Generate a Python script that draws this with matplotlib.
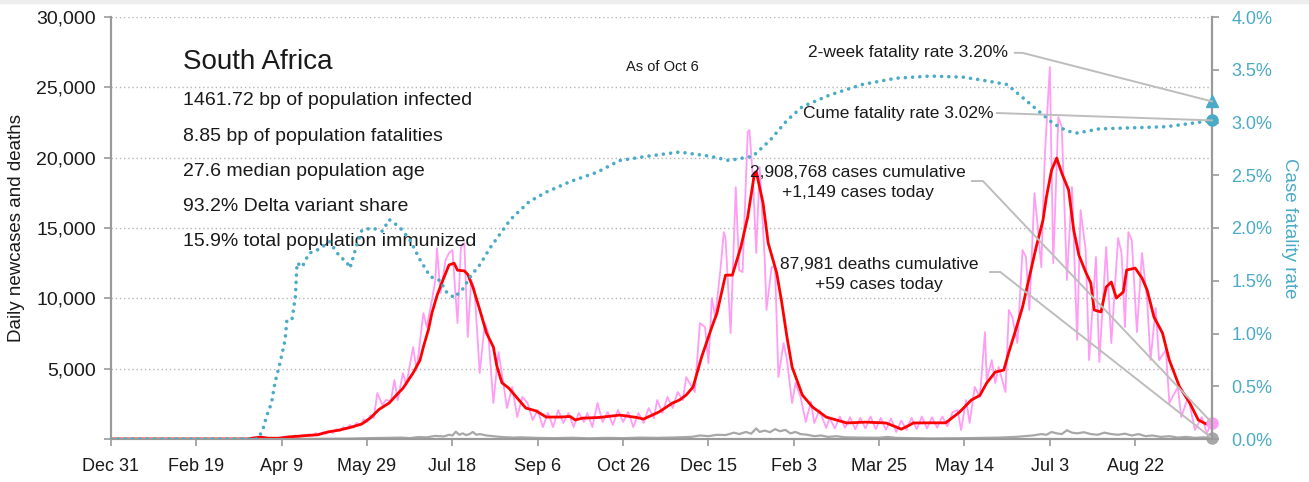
import numpy as np
import matplotlib
matplotlib.use("Agg")
import matplotlib.pyplot as plt
from matplotlib.patches import Rectangle
from matplotlib.ticker import FuncFormatter

plt.rcParams['font.family'] = ['Liberation Sans', 'DejaVu Sans']

# days counted from Dec 31, 2019
tick_days = [0, 50, 100, 150, 200, 250, 300, 350, 400, 450, 500, 550, 600]
tick_labels = ["Dec 31", "Feb 19", "Apr 9", "May 29", "Jul 18", "Sep 6", "Oct 26",
               "Dec 15", "Feb 3", "Mar 25", "May 14", "Jul 3", "Aug 22"]

# daily new cases
case_days = [0, 20, 40, 60, 65, 70, 75, 79, 82, 84, 86, 88, 90, 92, 94, 96, 98, 100,
             102, 104, 106, 108, 110, 112, 114, 116, 118, 120, 122, 124, 126, 128, 130,
             132, 134, 136, 138, 140, 142, 144, 146, 148, 150, 152, 154, 156, 159, 161,
             164, 166, 168, 171, 173, 177, 179, 183, 185, 188, 190, 191, 193, 196, 198,
             200, 203, 205, 207, 209, 211, 213, 216, 219, 221, 224, 227, 230, 232, 235,
             238, 241, 244, 247, 250, 253, 256, 259, 262, 265, 268, 271, 274, 277, 279,
             282, 285, 288, 291, 294, 297, 300, 303, 306, 309, 312, 315, 318, 320, 323,
             326, 329, 332, 335, 337, 342, 345, 348, 350, 352, 354, 357, 359, 360, 363,
             366, 368, 370, 373, 374, 376, 378, 380, 383, 384, 387, 389, 391, 394, 396,
             399, 401, 404, 407, 410, 412, 415, 419, 421, 424, 427, 430, 433, 436, 439,
             442, 445, 448, 451, 454, 457, 460, 463, 466, 469, 472, 475, 478, 481, 484,
             487, 490, 493, 496, 498, 501, 503, 506, 509, 512, 513, 516, 518, 520, 524,
             526, 528, 531, 534, 536, 538, 541, 543, 545, 547, 550, 552, 555, 557, 560,
             563, 566, 568, 571, 573, 577, 579, 583, 586, 590, 592, 594, 596, 598, 601,
             604, 607, 609, 612, 614, 618, 620, 625, 627, 631, 635, 639, 642, 645]
case_vals = [0, 0, 0, 0, 1, 3, 10, 25, 50, 90, 180, 120, 60, 40, 70, 90, 60, 110,
             80, 180, 130, 250, 160, 280, 210, 330, 240, 420, 300, 470, 360, 560, 430,
             700, 560, 850, 700, 1000, 800, 1150, 950, 1400, 1200, 1700, 1500, 3270, 2420, 2770,
             2700, 4190, 2770, 4690, 3840, 6540, 4900, 8950, 7960, 9880, 11300, 13570, 10380, 12720, 13220,
             13430, 8240, 13650, 13930, 7250, 11300, 10590, 4690, 8240, 7530, 2560, 6180, 3840, 2200, 3700,
             1560, 2990, 2560, 1350, 2060, 850, 1850, 850, 2060, 1140, 1850, 850, 1850, 1210, 1850,
             850, 2560, 1210, 1920, 1000, 2060, 1210, 1920, 850, 1850, 1140, 2200, 1490, 2770, 1850,
             2990, 2200, 3340, 2770, 4400, 3340, 8240, 7960, 5400, 10020, 8670, 12010, 14710, 14290, 7530,
             17900, 12000, 11870, 21820, 21960, 18620, 13220, 19330, 12720, 9170, 12220, 12220, 4410, 6820, 5610,
             2560, 3980, 2990, 1210, 2630, 1140, 2060, 780, 1500, 750, 1600, 800, 1550, 700, 1500,
             750, 1600, 700, 1500, 650, 1450, 500, 1300, 650, 1500, 700, 1600, 750, 1550, 800,
             1600, 900, 1900, 2060, 640, 2770, 1140, 3700, 2990, 7600, 4190, 5610, 3980, 5120, 3340,
             9170, 8670, 6820, 13430, 12940, 9170, 17480, 15000, 12220, 20000, 26440, 12500, 22890, 22170, 11300,
             17910, 7040, 16280, 13430, 5610, 12940, 5470, 13650, 6820, 14290, 13220, 7960, 14710, 14140, 7600,
             13220, 9880, 5610, 9310, 5610, 6330, 2560, 3700, 1560, 2990, 640, 1560, 430, 1149]

# 7-day average of new cases
avg_days = [0, 80, 84, 88, 92, 98, 104, 110, 116, 121, 127, 134, 141, 147, 152, 157, 163, 167,
            171, 177, 181, 183, 186, 188, 191, 194, 198, 201, 203, 207, 209, 212, 216, 220, 224,
            226, 229, 233, 238, 243, 249, 255, 263, 269, 272, 276, 286, 298, 308, 312, 321, 329,
            333, 337, 341, 346, 352, 355, 360, 364, 369, 373, 377, 378, 382, 385, 390, 393, 396,
            399, 405, 411, 419, 431, 442, 454, 459, 463, 468, 470, 480, 489, 497, 504, 509, 513,
            518, 523, 526, 530, 534, 538, 542, 546, 548, 551, 554, 557, 561, 564, 567, 571, 574,
            576, 580, 583, 586, 589, 593, 595, 600, 604, 607, 611, 616, 620, 626, 632, 637, 641, 645]
avg_vals = [0, 0, 80, 130, 60, 50, 150, 200, 260, 300, 500, 640, 850, 1070, 1500, 2100, 2560, 3100,
            3600, 4700, 5600, 6540, 7800, 8950, 10200, 11160, 12370, 12500, 12000, 11950, 11700, 10800, 9200, 7530, 6540,
            5200, 4000, 3620, 2910, 2200, 2000, 1560, 1560, 1600, 1350, 1480, 1530, 1700, 1530, 1420, 1920, 2560,
            2770, 3130, 3700, 5830, 7960, 8950, 11650, 11650, 13650, 15780, 18900, 19000, 16770, 13930, 11800, 9670, 7250,
            5120, 3130, 2270, 1560, 1140, 1200, 1140, 900, 700, 1000, 1140, 1150, 1150, 1900, 2770, 3100, 3980,
            4760, 4900, 6180, 7750, 9380, 11510, 13650, 15560, 17200, 19100, 19970, 18900, 17700, 14850, 13080, 11870, 11090,
            9170, 9030, 10800, 11160, 10020, 10450, 12010, 12150, 11440, 10590, 8670, 7530, 5610, 3700, 2560, 1350, 1100, 1000]

# daily deaths
death_days = [0, 80, 100, 120, 140, 150, 160, 170, 175, 180, 185, 190, 195, 198, 200, 202, 204,
              206, 208, 210, 212, 214, 216, 220, 224, 228, 235, 240, 250, 260, 270, 280, 290, 300,
              310, 320, 330, 340, 345, 350, 355, 360, 365, 368, 372, 375, 378, 380, 383, 386, 389,
              392, 395, 398, 401, 404, 408, 412, 416, 420, 425, 430, 440, 450, 455, 460, 470, 480,
              490, 500, 510, 520, 530, 535, 540, 545, 548, 551, 554, 557, 560, 563, 566, 570, 574,
              578, 582, 586, 590, 594, 598, 602, 606, 610, 615, 620, 625, 630, 635, 640, 645]
death_vals = [0, 0, 5, 10, 30, 60, 80, 100, 60, 140, 120, 220, 180, 300, 250, 520, 300,
              400, 280, 350, 500, 300, 350, 250, 200, 150, 100, 120, 80, 60, 90, 50, 80, 60,
              100, 80, 110, 150, 250, 200, 300, 280, 450, 350, 500, 380, 750, 500, 600, 480, 700,
              550, 650, 400, 500, 350, 300, 200, 250, 150, 200, 120, 100, 90, 150, 80, 60, 40,
              50, 60, 80, 100, 150, 200, 250, 350, 300, 500, 400, 350, 620, 450, 400, 480, 350,
              300, 450, 350, 300, 380, 250, 350, 200, 250, 150, 200, 100, 150, 80, 120, 59]

# cumulative case fatality rate, %
cfr_days = [0, 86, 89, 91, 94, 96, 99, 102, 103, 106, 108, 109, 112, 116, 122, 128, 134, 138,
            140, 144, 147, 153, 159, 163, 169, 175, 181, 187, 193, 196, 201, 206, 211, 216, 222,
            234, 245, 255, 269, 285, 298, 314, 333, 351, 362, 376, 386, 396, 405, 421, 440, 460,
            480, 499, 511, 525, 536, 544, 552, 560, 566, 579, 599, 618, 632, 645]
cfr_vals = [0, 0, 0.09, 0.21, 0.34, 0.53, 0.72, 0.94, 1.12, 1.13, 1.35, 1.67, 1.63, 1.76, 1.80, 1.87, 1.73, 1.68,
            1.62, 1.84, 1.98, 2.00, 1.97, 2.08, 2.01, 1.89, 1.70, 1.54, 1.50, 1.40, 1.34, 1.42, 1.55, 1.65, 1.81,
            2.08, 2.25, 2.34, 2.44, 2.53, 2.64, 2.68, 2.72, 2.68, 2.64, 2.68, 2.83, 3.02, 3.15, 3.26, 3.36, 3.42,
            3.44, 3.43, 3.40, 3.36, 3.21, 3.10, 2.99, 2.92, 2.90, 2.94, 2.95, 2.96, 2.99, 3.02]

two_week_rate = 3.20
cume_rate = 3.02
total_cases = 2908768
cases_today = 1149
total_deaths = 87981
deaths_today = 59

stats = ["1461.72 bp of population infected",
         "8.85 bp of population fatalities",
         "27.6 median population age",
         "93.2% Delta variant share",
         "15.9% total population immunized"]

teal = "#4aabc6"
pink = "#ff9cf4"
red = "#ff0000"
gray = "#a8a8a8"
axis_gray = "#9a9a9a"
text_col = "#1a1a1a"

fig = plt.figure(figsize=(13.09, 4.82), dpi=100)
fig.add_artist(Rectangle((0, 1 - 3 / 482), 1, 3 / 482, transform=fig.transFigure,
                         color="#eeeeee", zorder=0))
ax = fig.add_axes([111 / 1309, 43 / 482, 1101 / 1309, 422 / 482])
ax2 = ax.twinx()

ax.plot(death_days, death_vals, color=gray, lw=1.6, zorder=2)
ax.plot(case_days, case_vals, color=pink, lw=1.3, zorder=3)
ax.plot(avg_days, avg_vals, color=red, lw=2.0, zorder=4)
ax.plot(case_days[-1], case_vals[-1], "o", color=pink, ms=8, zorder=5, clip_on=False)
ax.plot(death_days[-1], death_vals[-1], "o", color=gray, ms=8, zorder=5, clip_on=False)

ax2.plot(cfr_days, cfr_vals, color=teal, lw=2.6, linestyle=(0, (0.01, 2.0)),
         dash_capstyle="round", zorder=3)
ax2.plot(cfr_days[-1], two_week_rate, "^", color=teal, ms=8, clip_on=False, zorder=5)
ax2.plot(cfr_days[-1], cume_rate, "o", color=teal, ms=8, clip_on=False, zorder=5)

# axes
ax.set_xlim(0, 645)
ax.set_ylim(0, 30000)
ax2.set_ylim(0, 4.0)
ax.set_xticks(tick_days)
ax.set_xticklabels(tick_labels)
ax.set_yticks(np.arange(0, 30001, 5000))
ax.yaxis.set_major_formatter(FuncFormatter(lambda v, p: "" if v == 0 else f"{v:,.0f}"))
ax2.set_yticks(np.arange(0, 4.01, 0.5))
ax2.yaxis.set_major_formatter(FuncFormatter(lambda v, p: f"{v:.1f}%"))

for a in (ax, ax2):
    a.spines["top"].set_visible(False)
    for side in ("left", "right", "bottom"):
        a.spines[side].set_color(axis_gray)
        a.spines[side].set_linewidth(1.5)

ax.tick_params(axis="both", colors=axis_gray, length=5, width=1.2, labelcolor=text_col)
ax.tick_params(axis="x", pad=9, labelsize=13)
ax.tick_params(axis="y", pad=6, labelsize=14)
ax2.tick_params(axis="y", colors=axis_gray, length=5, width=1.2, labelsize=13,
                labelcolor=teal, pad=9)

ax.grid(axis="y", linestyle=(0, (1, 2)), color="#b5b5b5", lw=1.0)
ax.set_axisbelow(True)

ax.set_ylabel("Daily newcases and deaths", fontsize=13.5, color=text_col, labelpad=8)
ax2.set_ylabel("Case fatality rate", fontsize=13.5, color=teal, rotation=270, labelpad=18)

# headline block
ax.text(0.0654, 0.893, "South Africa", transform=ax.transAxes, fontsize=20,
        color=text_col, va="center", ha="left")
for i, line in enumerate(stats):
    ax.text(0.0654, 0.801 - i * 0.083, line, transform=ax.transAxes, fontsize=14,
            color=text_col, va="center", ha="left")
ax.text(0.501, 0.8815, "As of Oct 6", transform=ax.transAxes, fontsize=10.5,
        color=text_col, va="center", ha="center")

# fatality rate callouts
leader = dict(color="#bdbdbd", lw=1.4, zorder=6, clip_on=False)
ax2.text(525.5, 3.66, f"2-week fatality rate {two_week_rate:.2f}%", fontsize=12.5,
         color=text_col, ha="right", va="center")
ax2.plot([529.5, 534, cfr_days[-1]], [3.66, 3.66, two_week_rate], **leader)
ax2.text(517, 3.09, f"Cume fatality rate {cume_rate:.2f}%", fontsize=12.5,
         color=text_col, ha="right", va="center", zorder=7)
ax2.plot([519, cfr_days[-1]], [3.09, cume_rate], **leader)

# cumulative totals callouts
ax.text(437.6, 18230, f"{total_cases:,} cases cumulative\n+{cases_today:,} cases today",
        fontsize=12.5, color=text_col, ha="center", va="center", linespacing=1.45, zorder=8)
ax.plot([504.4, 510.8, case_days[-1]], [18340, 18340, case_vals[-1]], **leader)
ax.text(450, 11690, f"{total_deaths:,} deaths cumulative\n+{deaths_today} cases today",
        fontsize=12.5, color=text_col, ha="center", va="center", linespacing=1.45, zorder=8)
ax.plot([515, 521, death_days[-1]], [11870, 11870, death_vals[-1]], **leader)

fig.savefig("out.png", dpi=100)
